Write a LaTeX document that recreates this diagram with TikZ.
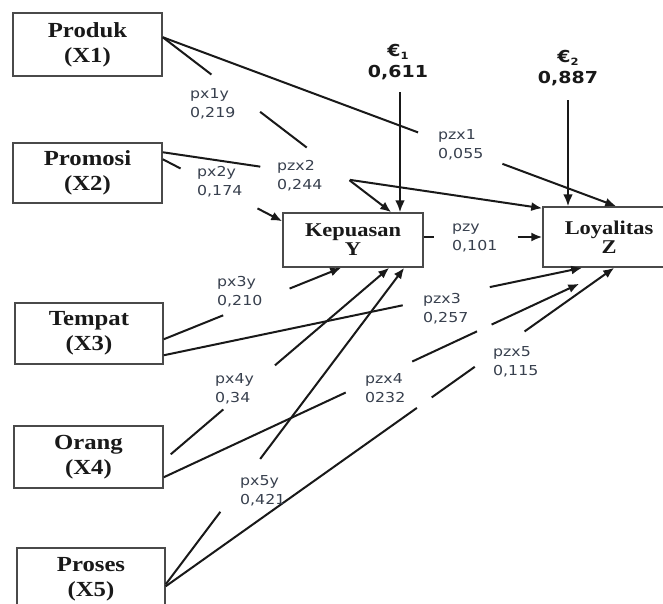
\documentclass[tikz,border=0pt]{standalone}
\usepackage{fontspec}
\usetikzlibrary{arrows.meta,calc}
\newfontfamily\boxfont[FakeStretch=1.15]{Liberation Serif}
\newfontfamily\labfont[FakeStretch=1.15]{DejaVu Sans}
\definecolor{labc}{HTML}{38404E}
\definecolor{boxc}{HTML}{4A4A4A}
\newcommand\lst{\rule{0pt}{10pt}}
\newcommand\gseg[5][ln]{\draw[#1] ($(#2)!#3!(#5)$) -- ($(#2)!#4!(#5)$);}
\tikzset{
 box/.style={draw=boxc, line width=1.5pt, fill=white, align=center, text=black!90,
   font=\boxfont\bfseries\fontsize{21.5}{25}\selectfont, inner sep=0},
 vbox/.style={box, font=\boxfont\bfseries\fontsize{19.5}{19}\selectfont},
 lab/.style={anchor=north west, inner sep=0, align=left, text=labc,
   font=\labfont\fontsize{13.7}{19}\selectfont},
 eps/.style={align=center, inner sep=0, text=black!90,
   font=\labfont\bfseries\fontsize{16.5}{21}\selectfont},
 ln/.style={line width=2pt, black!90},
 arr/.style={ln, -{Latex[length=11pt,width=9pt]}},
 earr/.style={line width=2.8pt, black!90, -{Latex[length=12pt,width=10pt]}},
}
\begin{document}
\begin{tikzpicture}[x=1pt,y=-1pt]
\useasboundingbox (0,0) rectangle (663,603);
\clip (0,0) rectangle (663,603);
\fill[white] (0,0) rectangle (663,603);

% boxes
\node[box, minimum width=149pt, minimum height=63pt] (X1) at (87.5,44.5) {Produk\\(X1)};
\node[box, minimum width=149pt, minimum height=60pt] (X2) at (87.5,173) {Promosi\\(X2)};
\node[box, minimum width=148pt, minimum height=61pt] (X3) at (89,333.5) {Tempat\\(X3)};
\node[box, minimum width=149pt, minimum height=62pt] (X4) at (88.5,457) {Orang\\(X4)};
\node[box, minimum width=148pt, minimum height=63pt] (X5) at (91,579.5) {Proses\\(X5)};
\node[vbox, minimum width=140pt, minimum height=54pt] (Y) at (353,240) {Kepuasan\\Y};
\node[vbox, minimum width=132pt, minimum height=60pt] (Z) at (609,237) {Loyalitas\\Z};

% error terms
\node[eps] (e1) at (398,62) {€\raisebox{-3pt}{\fontsize{10}{10}\selectfont 1}\\0,611};
\node[eps] (e2) at (568,68) {€\raisebox{-3pt}{\fontsize{10}{10}\selectfont 2}\\0,887};
\coordinate (e1s) at (400,92);
\coordinate (e2s) at (568,100);
\draw[earr] (e1s) -- (e1s |- Y.north);
\draw[earr] (e2s) -- (e2s |- Z.north);

% start points
\coordinate (a1) at ($(X1.north east)+(0,25)$);
\coordinate (a2) at ($(X2.north east)+(0,10)$);
\coordinate (a3) at ($(X2.north east)+(0,17)$);
\coordinate (a4) at ($(X3.north east)+(0,37)$);
\coordinate (a5) at ($(X3.north east)+(0,53)$);
\coordinate (a6) at ($(X4.north east)+(0,35)$);
\coordinate (a7) at ($(X4.north east)+(0,52)$);
\coordinate (a8) at ($(X5.north east)+(0,37)$);
\coordinate (a9) at ($(X5.north east)+(0,39)$);
% end points
\coordinate (b1) at ($(Z.north west)+(74,0)$);
\coordinate (b2) at ($(Y.north west)+(109,0)$);
\coordinate (b3) at ($(Z.north west)+(0,2)$);
\coordinate (b4) at ($(Y.north west)+(0,9)$);
\coordinate (b5) at ($(Y.south west)+(59,0)$);
\coordinate (b6) at ($(Z.south west)+(40,0)$);
\coordinate (b7) at ($(Y.south west)+(107,0)$);
\coordinate (b8) at ($(Z.south west)+(37,16)$);
\coordinate (b9) at ($(Y.south west)+(122,0)$);
\coordinate (b10) at ($(Z.south west)+(72,0)$);
\coordinate (ys) at (Y.east |- Z.west);

% Produk -> Z
\gseg{a1}{0}{0.563}{b1}
\gseg[arr]{a1}{0.749}{1}{b1}
% Produk -> Y
\gseg{a1}{0}{0.213}{b2}
\gseg{a1}{0.426}{0.630}{b2}
\gseg[arr]{a1}{0.817}{1}{b2}
% Promosi -> Z
\gseg{a2}{0}{0.257}{b3}
\gseg[arr]{a2}{0.493}{1}{b3}
% Promosi -> Y
\gseg{a3}{0}{0.149}{b4}
\gseg[arr]{a3}{0.793}{1}{b4}
% Tempat -> Y
\gseg{a4}{0}{0.335}{b5}
\gseg[arr]{a4}{0.709}{1}{b5}
% Tempat -> Z
\gseg{a5}{0}{0.571}{b6}
\gseg[arr]{a5}{0.779}{1}{b6}
% Orang -> Y
\gseg{a6}{0.031}{0.264}{b7}
\gseg[arr]{a6}{0.493}{1}{b7}
% Orang -> Z
\gseg{a7}{0}{0.438}{b8}
\gseg{a7}{0.598}{0.754}{b8}
\gseg[arr]{a7}{0.789}{1}{b8}
% Proses -> Y
\gseg{a8}{0}{0.229}{b9}
\gseg[arr]{a8}{0.396}{1}{b9}
% Proses -> Z
\gseg{a9}{0}{0.56}{b10}
\gseg{a9}{0.593}{0.689}{b10}
\gseg[arr]{a9}{0.80}{1}{b10}
% Y -> Z
\gseg{ys}{0}{0.083}{Z.west}
\gseg[arr]{ys}{0.792}{1}{Z.west}

% labels
\node[lab] (l1) at (190,88.5) {\lst px1y\\0,219};
\node[lab] (l2) at (438,129.5) {\lst pzx1\\0,055};
\node[lab] (l3) at (277,160.5) {\lst pzx2\\0,244};
\node[lab] (l4) at (197,166.5) {\lst px2y\\0,174};
\node[lab] (l5) at (452,221.5) {\lst pzy\\0,101};
\node[lab] (l6) at (217,276.5) {\lst px3y\\0,210};
\node[lab] (l7) at (423,293) {\lst pzx3\\0,257};
\node[lab] (l8) at (215,373.5) {\lst px4y\\0,34};
\node[lab] (l9) at (365,373.5) {\lst pzx4\\0232};
\node[lab] (l10) at (493,346.5) {\lst pzx5\\0,115};
\node[lab] (l11) at (240,475.5) {\lst px5y\\0,421};
\end{tikzpicture}
\end{document}
